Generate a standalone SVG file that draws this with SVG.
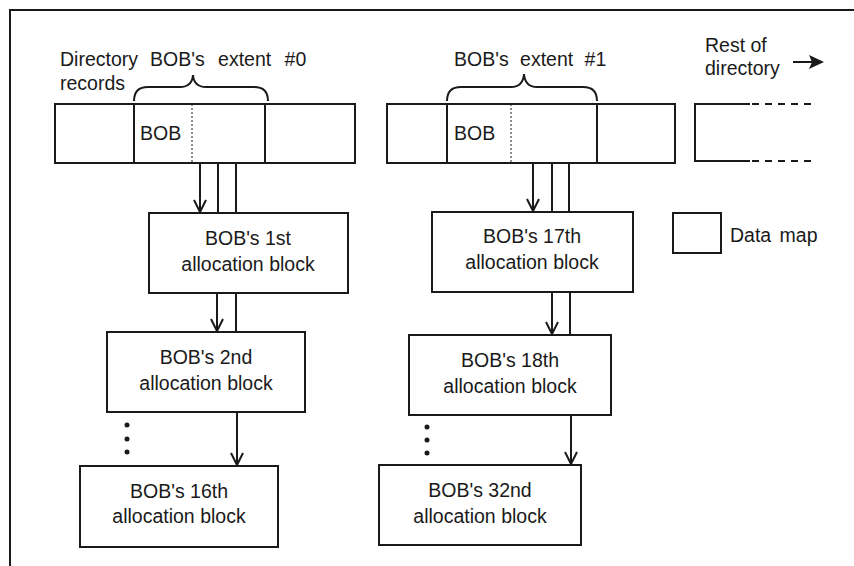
<svg xmlns="http://www.w3.org/2000/svg" width="854" height="566" viewBox="0 0 854 566">
<style>
text{font-family:"Liberation Sans",Arial,Helvetica,sans-serif;font-size:19.5px;fill:#1a1a1a}
.c{text-anchor:middle}
.box{fill:#fff;stroke:#1a1a1a;stroke-width:2}
.ln{fill:none;stroke:#1a1a1a;stroke-width:2}
.dot{fill:none;stroke:#1a1a1a;stroke-width:1;stroke-dasharray:2,2}
.dash{fill:none;stroke:#1a1a1a;stroke-width:2;stroke-dasharray:7,6}
.arr{fill:none;stroke:#1a1a1a;stroke-width:2;marker-end:url(#ah)}
</style>
<defs>
<marker id="ah" markerWidth="18" markerHeight="18" refX="14" refY="8" orient="auto" markerUnits="userSpaceOnUse" overflow="visible">
<path d="M2,2 L14,8 L2,14" fill="none" stroke="#1a1a1a" stroke-width="2"/>
</marker>
</defs>
<rect width="854" height="566" fill="#fff"/>
<g id="frame">
<path class="ln" d="M10,566 L10,10 L854,10"/>
</g>
<g id="labels">
<text x="60" y="66">Directory</text>
<text x="60" y="90">records</text>
<text x="150" y="66" style="word-spacing:8px">BOB's extent #0</text>
<text x="454" y="66" style="word-spacing:6px">BOB's extent #1</text>
<text x="705" y="52">Rest of</text>
<text x="705" y="75">directory</text>
<path class="ln" d="M793,62 L820,62"/>
<path d="M809,55 L824,62 L809,69 L812,62 Z" fill="#1a1a1a"/>
</g>
<g id="brace0">
<path class="ln" d="M134,101 Q134,87 148,87 L180,87 Q192,87 193,75 Q194,87 206,87 L254,87 Q268,87 268,101"/>
</g>
<g id="brace1">
<path class="ln" d="M447,101 Q447,87 461,87 L511,87 Q523,87 524,74 Q525,87 537,87 L583,87 Q597,87 597,101"/>
</g>
<g id="dir0">
<rect class="box" x="55" y="104" width="300" height="59"/>
<path class="ln" d="M134,104 L134,163 M265,104 L265,163"/>
<path class="dot" d="M192,104 L192,163"/>
<text x="140" y="140">BOB</text>
</g>
<g id="dir1">
<rect class="box" x="387" y="104" width="288" height="59"/>
<path class="ln" d="M447,104 L447,163 M597,104 L597,163"/>
<path class="dot" d="M511,104 L511,163"/>
<text x="454" y="140">BOB</text>
</g>
<g id="restdir">
<path class="ln" d="M750,104 L695,104 L695,161 L750,161"/>
<path class="dash" d="M752,104 L817,104 M752,161 L817,161"/>
</g>
<g id="legend">
<rect class="box" x="673" y="213" width="48" height="40"/>
<text x="730" y="242" style="word-spacing:3px">Data map</text>
</g>
<g id="blk1">
<rect class="box" x="149" y="213" width="199" height="80"/>
<text class="c" x="248" y="245">BOB's 1st</text>
<text class="c" x="248" y="271">allocation block</text>
</g>
<g id="blk2">
<rect class="box" x="107" y="332" width="198" height="80"/>
<text class="c" x="206" y="364">BOB's 2nd</text>
<text class="c" x="206" y="390">allocation block</text>
</g>
<g id="blk16">
<rect class="box" x="80" y="466" width="198" height="81"/>
<text class="c" x="179" y="498">BOB's 16th</text>
<text class="c" x="179" y="523">allocation block</text>
</g>
<g id="blk17">
<rect class="box" x="432" y="212" width="201" height="80"/>
<text class="c" x="532" y="243">BOB's 17th</text>
<text class="c" x="532" y="269">allocation block</text>
</g>
<g id="blk18">
<rect class="box" x="409" y="335" width="202" height="80"/>
<text class="c" x="510" y="367">BOB's 18th</text>
<text class="c" x="510" y="393">allocation block</text>
</g>
<g id="blk32">
<rect class="box" x="379" y="465" width="202" height="80"/>
<text class="c" x="480" y="497">BOB's 32nd</text>
<text class="c" x="480" y="523">allocation block</text>
</g>
<g id="connectors">
<path class="arr" d="M200,163 L200,212"/>
<path class="ln" d="M218,163 L218,213 M236,163 L236,213"/>
<path class="arr" d="M217,293 L217,331"/>
<path class="ln" d="M236,293 L236,332"/>
<path class="arr" d="M237,412 L237,465"/>
<path class="arr" d="M533,163 L533,211"/>
<path class="ln" d="M552,163 L552,212 M569,163 L569,212"/>
<path class="arr" d="M552,292 L552,334"/>
<path class="ln" d="M570,292 L570,335"/>
<path class="arr" d="M571,415 L571,464"/>
</g>
<g id="ellipsis">
<circle cx="127" cy="425" r="2.5" fill="#1a1a1a"/>
<circle cx="127" cy="439" r="2.5" fill="#1a1a1a"/>
<circle cx="127" cy="452" r="2.5" fill="#1a1a1a"/>
<circle cx="427" cy="427" r="2.5" fill="#1a1a1a"/>
<circle cx="427" cy="440" r="2.5" fill="#1a1a1a"/>
<circle cx="427" cy="453" r="2.5" fill="#1a1a1a"/>
</g>
</svg>
